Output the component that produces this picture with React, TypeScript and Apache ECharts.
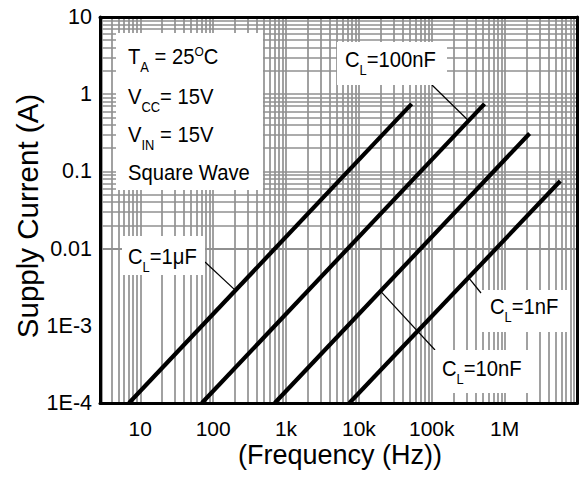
import React, { useEffect, useRef } from 'react';
import * as echarts from 'echarts';

// ---- data ----
const xTickLabels: [number, string][] = [
  [1, '10'], [2, '100'], [3, '1k'], [4, '10k'], [5, '100k'], [6, '1M'],
];
const yTickLabels: [number, string][] = [
  [-4, '1E-4'], [-3, '1E-3'], [-2, '0.01'], [-1, '0.1'], [0, '1'], [1, '10'],
];
const xMin = 2.8;
const xMax = 1e7;
const yMin = 1e-4;
const yMax = 10;
const gridMantissas = [1, 2, 3, 4, 5, 6, 7, 8, 9];

const xTitle = '(Frequency (Hz))';
const yTitle = 'Supply Current (A)';
const capLabels = ['1μF', '100nF', '10nF', '1nF'];
const cl1uF: [number, number][] = [[7, 1e-4], [53000, 0.75]];
const cl100nF: [number, number][] = [[70, 1e-4], [530000, 0.75]];
const cl10nF: [number, number][] = [[700, 1e-4], [2200000, 0.31]];
const cl1nF: [number, number][] = [[7400, 1e-4], [5800000, 0.075]];
const curves = [cl1uF, cl100nF, cl10nF, cl1nF];
// frequency where each label's leader touches its curve
const leaderFreqs = [202, 320000, 19800, 320000];

const conditionLines = [
  '{m|T}{s|A}{m| = 25}{o|O}{m|C}',
  '{m|V}{s|CC}{m|= 15V}',
  '{m|V}{s|IN}{m| = 15V}',
  '{m|Square Wave}',
];

const F = "'Liberation Sans', Arial, Helvetica, sans-serif";

function gridValues(lo: number, hi: number, e0: number, e1: number) {
  const out: number[] = [];
  for (let e = e0; e <= e1; e++) {
    for (const m of gridMantissas) {
      const v = m * Math.pow(10, e);
      if (v > lo * 1.001 && v < hi * 0.999) out.push(v);
    }
  }
  return out;
}

function curveAt(pts: [number, number][], f: number) {
  const [a, b] = pts;
  const lf1 = Math.log10(a[0]), lf2 = Math.log10(b[0]);
  const li1 = Math.log10(a[1]), li2 = Math.log10(b[1]);
  const li = li1 + ((Math.log10(f) - lf1) * (li2 - li1)) / (lf2 - lf1);
  return Math.pow(10, li);
}

function labelFor(table: [number, string][], v: number) {
  const lv = Math.log10(v);
  const r = Math.round(lv);
  if (Math.abs(lv - r) > 1e-6) return '';
  const hit = table.find((t) => t[0] === r);
  return hit ? hit[1] : '';
}

const rich = {
  m: { fontFamily: F, fontSize: 22, lineHeight: 24, verticalAlign: 'top', fill: '#000' },
  s: { fontFamily: F, fontSize: 14, lineHeight: 14, padding: [15, 0, 0, 0], verticalAlign: 'top', fill: '#000' },
  o: { fontFamily: F, fontSize: 13, lineHeight: 13, verticalAlign: 'top', fill: '#000' },
};

export default function App() {
  const ref = useRef<HTMLDivElement>(null);

  useEffect(() => {
    if (!ref.current) return;
    const chart = echarts.init(ref.current, undefined, { renderer: 'svg' });

    const xGrid = gridValues(xMin, xMax, 0, 7);
    const yGrid = gridValues(yMin, yMax, -4, 1);

    const axisLineStyle = { show: true, onZero: false, lineStyle: { color: '#000', width: 3 } };

    const option: any = {
      animation: false,
      backgroundColor: '#fff',
      grid: { left: 100, right: 3.5, top: 17, bottom: 76, containLabel: false },
      xAxis: [
        {
          type: 'log', logBase: 10, min: xMin, max: xMax, position: 'bottom', z: 10,
          axisLine: axisLineStyle,
          axisTick: { show: false },
          splitLine: { show: false },
          axisLabel: {
            interval: 0, showMinLabel: true, showMaxLabel: true,
            fontFamily: F, fontSize: 21, color: '#000', margin: 15,
            formatter: (v: number) => labelFor(xTickLabels, v),
          },
        },
        {
          type: 'log', logBase: 10, min: xMin, max: xMax, position: 'top', z: 10,
          axisLine: axisLineStyle, axisTick: { show: false }, axisLabel: { show: false },
          splitLine: { show: false },
        },
      ],
      yAxis: [
        {
          type: 'log', logBase: 10, min: yMin, max: yMax, position: 'left', z: 10,
          axisLine: axisLineStyle,
          axisTick: { show: false },
          splitLine: { show: false },
          axisLabel: {
            interval: 0, showMinLabel: true, showMaxLabel: true,
            fontFamily: F, fontSize: 21.5, color: '#000', margin: 8,
            formatter: (v: number) => labelFor(yTickLabels, v),
          },
        },
        {
          type: 'log', logBase: 10, min: yMin, max: yMax, position: 'right', z: 10,
          axisLine: axisLineStyle, axisTick: { show: false }, axisLabel: { show: false },
          splitLine: { show: false },
        },
      ],
      series: [
        {
          type: 'line', name: 'grid', data: [[xMin, yMin]], symbol: 'none', silent: true,
          lineStyle: { width: 0 }, z: 1,
          markLine: {
            z: 1, silent: true, symbol: ['none', 'none'], label: { show: false },
            lineStyle: { color: '#919191', width: 1.7, type: 'solid' },
            emphasis: { disabled: true },
            data: [
              ...xGrid.map((v) => ({ xAxis: v })),
              ...yGrid.map((v) => ({ yAxis: v })),
            ],
          },
        },
        ...curves.map((pts, i) => ({
          type: 'line', name: capLabels[i], data: pts, symbol: 'none', silent: true,
          lineStyle: { color: '#000', width: 4.2 }, z: 6,
        })),
      ],
    };
    chart.setOption(option);

    // ---- annotation layout (pixels) ----
    const boxes = [
      { label: 0, rect: [122, 236, 83, 39], text: [128, 245], leader: [205, 262] },
      { label: 1, rect: [337, 42, 110, 43], text: [345, 48], leader: [432, 85] },
      { label: 2, rect: [433, 350, 97, 43], text: [442, 357], leader: [435, 350] },
      { label: 3, rect: [482, 290, 85, 42], text: [490, 295], leader: [481, 293] },
    ];

    const graphics: any[] = [];
    graphics.push({
      type: 'text', z: 101, silent: true, x: 340, y: 455,
      style: { text: xTitle, fontFamily: F, fontSize: 27, fill: '#000', align: 'center', verticalAlign: 'middle' },
    });
    graphics.push({
      type: 'text', z: 101, silent: true, x: 27, y: 216, rotation: Math.PI / 2,
      style: { text: yTitle, fontFamily: F, fontSize: 29.5, fill: '#000', align: 'center', verticalAlign: 'middle' },
    });
    graphics.push({
      type: 'rect', z: 100, silent: true,
      shape: { x: 116, y: 33, width: 147, height: 157 },
      style: { fill: '#fff' },
    });
    conditionLines.forEach((t, i) => {
      graphics.push({
        type: 'text', z: 101, silent: true, x: 128, y: [45, 85, 123, 161][i], scaleX: 0.92,
        style: { text: t, rich, verticalAlign: 'top', align: 'left' },
      });
    });
    boxes.forEach((b) => {
      const i = b.label;
      const f = leaderFreqs[i];
      const p = chart.convertToPixel({ xAxisIndex: 0, yAxisIndex: 0 }, [f, curveAt(curves[i], f)]) as number[];
      graphics.push({
        type: 'line', z: 100, silent: true,
        shape: { x1: b.leader[0], y1: b.leader[1], x2: p[0], y2: p[1] },
        style: { stroke: '#000', lineWidth: 1.2 },
      });
      graphics.push({
        type: 'rect', z: 100, silent: true,
        shape: { x: b.rect[0], y: b.rect[1], width: b.rect[2], height: b.rect[3] },
        style: { fill: '#fff' },
      });
      graphics.push({
        type: 'text', z: 101, silent: true, x: b.text[0], y: b.text[1], scaleX: 0.92,
        style: { text: `{m|C}{s|L}{m|=${capLabels[i]}}`, rich, verticalAlign: 'top', align: 'left' },
      });
    });
    chart.setOption({ graphic: graphics });

    return () => chart.dispose();
  }, []);

  return (
    <div
      ref={ref}
      style={{ position: 'absolute', left: 0, top: 0, width: 581, height: 479, background: '#fff' }}
    />
  );
}
